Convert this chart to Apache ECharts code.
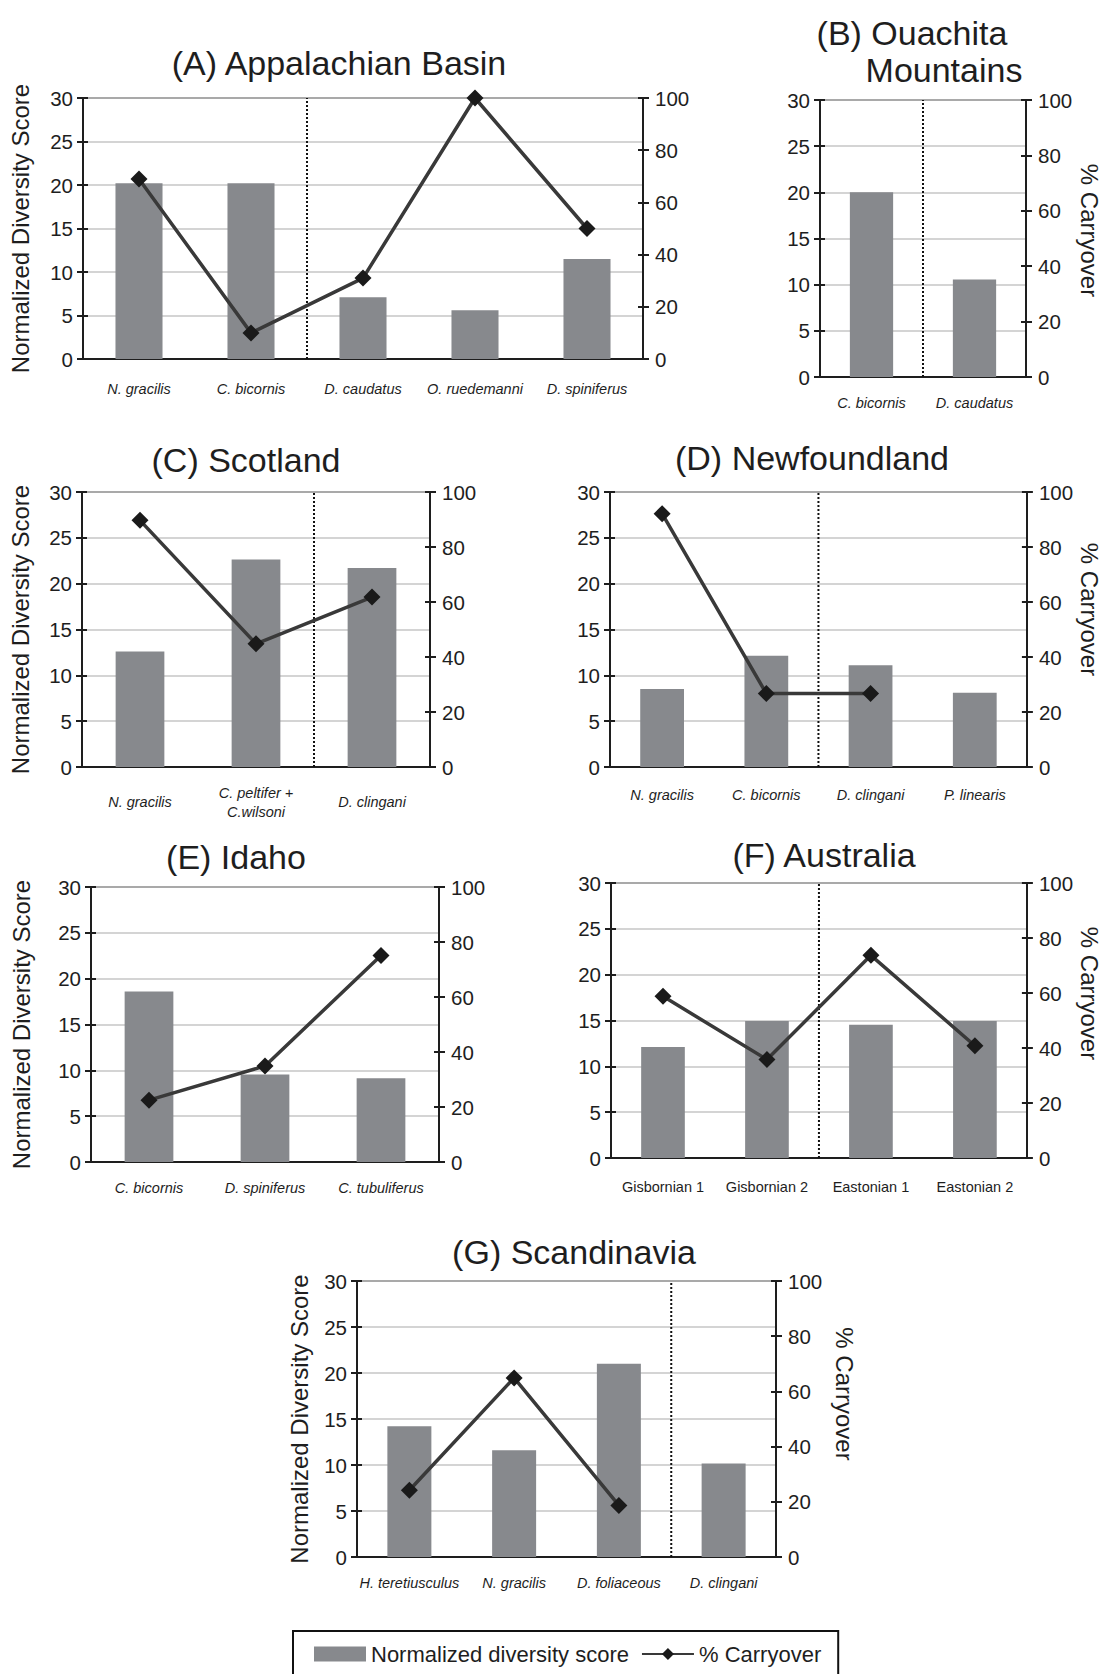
<!DOCTYPE html>
<html>
<head>
<meta charset="utf-8">
<title>Normalized diversity score and % carryover</title>
<script src="https://cdn.jsdelivr.net/npm/echarts@6/dist/echarts.min.js"></script>
<style>
  html, body { margin: 0; padding: 0; background: #fff; }
  #chart { width: 1102px; height: 1674px; }
</style>
</head>
<body>
<div id="chart"></div>
<script>
// ---- data ----
const diversityMax = 30, diversityStep = 5
const carryoverMax = 100, carryoverStep = 20

const aCategories = ['N. gracilis', 'C. bicornis', 'D. caudatus', 'O. ruedemanni', 'D. spiniferus']
const aDiversity = [20.2, 20.2, 7.1, 5.6, 11.5]
const aCarryover = [69, 10, 31, 100, 50]
const aDivider = 2

const bCategories = ['C. bicornis', 'D. caudatus']
const bDiversity = [20, 10.55]
const bCarryover = []
const bDivider = 1

const cCategories = ['N. gracilis', 'C. peltifer +\nC.wilsoni', 'D. clingani']
const cDiversity = [12.6, 22.65, 21.7]
const cCarryover = [89.7, 44.8, 61.8]
const cDivider = 2

const dCategories = ['N. gracilis', 'C. bicornis', 'D. clingani', 'P. linearis']
const dDiversity = [8.5, 12.15, 11.1, 8.1]
const dCarryover = [92.1, 26.7, 26.7, null]
const dDivider = 2

const eCategories = ['C. bicornis', 'D. spiniferus', 'C. tubuliferus']
const eDiversity = [18.6, 9.55, 9.15]
const eCarryover = [22.5, 34.9, 75.1]
const eDivider = null

const fCategories = ['Gisbornian 1', 'Gisbornian 2', 'Eastonian 1', 'Eastonian 2']
const fDiversity = [12.1, 14.95, 14.55, 14.95]
const fCarryover = [58.8, 35.8, 73.7, 40.8]
const fDivider = 2

const gCategories = ['H. teretiusculus', 'N. gracilis', 'D. foliaceous', 'D. clingani']
const gDiversity = [14.2, 11.6, 21.0, 10.15]
const gCarryover = [24.2, 64.9, 18.7, null]
const gDivider = 3

const diversityName = 'Normalized diversity score'
const carryoverName = '% Carryover'

// ---- layout of each panel (plot box in px, label gaps) ----
const panels = [
  { cats: aCategories, div: aDiversity, carry: aCarryover, split: aDivider,
    x0: 83, x1: 643, y0: 98, y1: 359, labelGap: 30, italic: true,
    leftName: 51, rightName: null, nameShift: 0,
    titles: [['(A) Appalachian Basin', 339, 63]] },
  { cats: bCategories, div: bDiversity, carry: bCarryover, split: bDivider,
    x0: 820, x1: 1027, y0: 100, y1: 377, labelGap: 26, italic: true,
    leftName: null, rightName: 51, nameShift: 8,
    titles: [['(B) Ouachita', 912, 33], ['Mountains', 944, 70]] },
  { cats: cCategories, div: cDiversity, carry: cCarryover, split: cDivider,
    x0: 82, x1: 430, y0: 492, y1: 767, labelGap: 35, italic: true,
    leftName: 50, rightName: null, nameShift: 0,
    titles: [['(C) Scotland', 246, 460]] },
  { cats: dCategories, div: dDiversity, carry: dCarryover, split: dDivider,
    x0: 610, x1: 1028, y0: 492, y1: 767, labelGap: 28, italic: true,
    leftName: null, rightName: 49, nameShift: 20,
    titles: [['(D) Newfoundland', 812, 458]] },
  { cats: eCategories, div: eDiversity, carry: eCarryover, split: eDivider,
    x0: 91, x1: 439, y0: 887, y1: 1162, labelGap: 26, italic: true,
    leftName: 58, rightName: null, nameShift: 0,
    titles: [['(E) Idaho', 236, 857]] },
  { cats: fCategories, div: fDiversity, carry: fCarryover, split: fDivider,
    x0: 611, x1: 1029, y0: 883, y1: 1158, labelGap: 29, italic: false,
    leftName: null, rightName: 48, nameShift: 27,
    titles: [['(F) Australia', 824, 855]] },
  { cats: gCategories, div: gDiversity, carry: gCarryover, split: gDivider,
    x0: 357, x1: 776, y0: 1281, y1: 1557, labelGap: 26, italic: true,
    leftName: 46, rightName: 56, nameShift: 25,
    titles: [['(G) Scandinavia', 574, 1252]] },
]

const font = '"Liberation Sans", Arial, sans-serif'
const ink = '#1e1e1e'
const barColor = '#87898d'
const lineColor = '#393939'
const markColor = '#1a1a1a'

const option = {
  animation: false,
  backgroundColor: '#ffffff',
  grid: [], xAxis: [], yAxis: [], series: [], graphic: [],
  legend: {
    data: [{ name: diversityName, icon: 'rect' }, { name: carryoverName }],
    left: 293, top: 1631,
    itemWidth: 52, itemHeight: 15, itemGap: 12,
    padding: [12, 17, 14, 21],
    borderColor: '#111', borderWidth: 2,
    textStyle: { fontFamily: font, fontSize: 22, color: ink },
  },
}

const tickStyle = { color: ink, width: 2 }
// top grid line is darker than the rest
const gridColors = ['#c6c6c6', '#c6c6c6', '#c6c6c6', '#c6c6c6', '#c6c6c6', '#c6c6c6', '#8c8c8c']

panels.forEach((p, i) => {
  option.grid.push({ left: p.x0, top: p.y0, width: p.x1 - p.x0, height: p.y1 - p.y0 })

  // category axis + a second one for the inner half of the ticks + hidden value axis for the divider
  const xCat = option.xAxis.length
  option.xAxis.push({
    type: 'category', gridIndex: i, data: p.cats,
    axisLine: { onZero: false, lineStyle: tickStyle },
    axisTick: { interval: 0, length: 6, lineStyle: tickStyle },
    axisLabel: {
      interval: 0, margin: p.labelGap, verticalAlign: 'middle', color: ink,
      fontFamily: font, fontSize: 14.5, lineHeight: 19,
      fontStyle: p.italic ? 'italic' : 'normal',
    },
  })
  option.xAxis.push({
    type: 'category', gridIndex: i, data: p.cats,
    axisLine: { show: false, onZero: false },
    axisTick: { inside: true, interval: 0, length: 5, lineStyle: tickStyle },
    axisLabel: { show: false },
  })
  const xVal = option.xAxis.length
  option.xAxis.push({ type: 'value', gridIndex: i, min: 0, max: p.cats.length, show: false })

  const yLeft = option.yAxis.length
  option.yAxis.push({
    type: 'value', gridIndex: i, position: 'left',
    min: 0, max: diversityMax, interval: diversityStep,
    axisLine: { show: true, onZero: false, lineStyle: tickStyle },
    axisTick: { show: true, length: 6, lineStyle: tickStyle },
    axisLabel: { margin: 10, color: ink, fontFamily: font, fontSize: 20.5 },
    splitLine: { show: true, lineStyle: { color: gridColors, width: 1.5 } },
    name: p.leftName != null ? 'Normalized Diversity Score' : '',
    nameLocation: 'middle', nameGap: p.leftName || 0,
    nameTextStyle: { fontFamily: font, fontSize: 24, color: ink },
  })
  option.yAxis.push({
    type: 'value', gridIndex: i, position: 'left',
    min: 0, max: diversityMax, interval: diversityStep,
    axisLine: { show: false, onZero: false },
    axisTick: { show: true, inside: true, length: 5, lineStyle: tickStyle },
    axisLabel: { show: false }, splitLine: { show: false },
  })
  const yRight = option.yAxis.length
  option.yAxis.push({
    type: 'value', gridIndex: i, position: 'right',
    min: 0, max: carryoverMax, interval: carryoverStep,
    axisLine: { show: true, onZero: false, lineStyle: tickStyle },
    axisTick: { show: true, length: 6, lineStyle: tickStyle },
    axisLabel: { margin: 12, color: ink, fontFamily: font, fontSize: 20.5 },
    splitLine: { show: false },
    name: p.rightName != null ? '% Carryover' : '',
    nameLocation: 'middle', nameGap: p.rightName || 0, nameRotate: -90,
    nameTextStyle: { fontFamily: font, fontSize: 24, color: ink, padding: [0, p.nameShift * 2, 0, 0] },
  })
  option.yAxis.push({
    type: 'value', gridIndex: i, position: 'right',
    min: 0, max: carryoverMax, interval: carryoverStep,
    axisLine: { show: false, onZero: false },
    axisTick: { show: true, inside: true, length: 5, lineStyle: tickStyle },
    axisLabel: { show: false }, splitLine: { show: false },
  })

  option.series.push({
    name: diversityName, type: 'bar',
    xAxisIndex: xCat, yAxisIndex: yLeft,
    data: p.div, barWidth: '42%',
    itemStyle: { color: barColor },
  })

  if (p.split != null) {
    option.series.push({
      type: 'line', xAxisIndex: xVal, yAxisIndex: yLeft,
      data: [[p.split, 0], [p.split, diversityMax]],
      symbol: 'none', silent: true, z: 3,
      lineStyle: { type: 'dotted', color: '#111', width: 2 },
    })
  }

  if (p.carry.length) {
    option.series.push({
      name: carryoverName, type: 'line',
      xAxisIndex: xCat, yAxisIndex: yRight,
      data: p.carry, symbol: 'diamond', symbolSize: 17, z: 4,
      lineStyle: { color: lineColor, width: 3.5 },
      itemStyle: { color: markColor },
    })
  }

  p.titles.forEach(t => {
    option.graphic.push({
      type: 'text', x: t[1], y: t[2],
      style: { text: t[0], fill: ink, font: '34px ' + font, textAlign: 'center', textVerticalAlign: 'middle' },
    })
  })
})

const chart = echarts.init(document.getElementById('chart'), null, { renderer: 'svg' })
chart.setOption(option)
</script>
</body>
</html>
